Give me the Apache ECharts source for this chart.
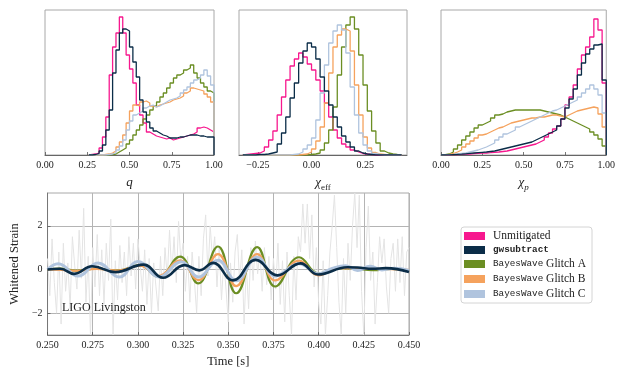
<!DOCTYPE html>
<html><head><meta charset="utf-8">
<script src="https://cdn.jsdelivr.net/npm/echarts@6/dist/echarts.min.js"></script>
<style>html,body{margin:0;padding:0;background:#fff}#c{width:618px;height:369px}</style>
</head><body><div id="c"></div>
<script>
// ---------- names / colours ----------
const seriesNames = ['Unmitigated', 'gwsubtract', 'BayesWave Glitch A', 'BayesWave Glitch B', 'BayesWave Glitch C'];
const seriesColors = ['#f7188e', '#0b2d48', '#6b8e23', '#f5a25d', '#b0c4de'];

// ---------- histogram: q (bins of 0.02 starting at 0.26) ----------
const qBinStart = 0.26, qBinWidth = 0.02;
const qUnmitigated = [0.5,1,2,7,18,38,80,108,122,138,122,100,86,72,50,40,32,23,21,19,18,17,16,17,15,16,17,18,19,20,21,23,27,28,27,25,23];
const qGwsubtract  = [0,0.5,1.5,4,10,25,45,82,105,122,126,124,108,93,78,55,43,33,27,24,22,20,19,17,17,17,18,18,19,20,20,20,19,19,18,18,18];
const qGlitchA     = [0,0,0,0,0,0,0.5,1,3,5,7,11,15,20,25,30,36,40,45,49,53,58,62,67,72,77,80,82,85,87,90,82,77,72,68,64,62];
const qGlitchB     = [0,0,0,0,0.5,1,2,4,8,13,20,32,44,50,49,53,54,52,49,48,50,51,52,53,55,56,57,59,62,64,67,66,65,64,61,58,53];
const qGlitchC     = [0,0,0,0,0,0.5,1,2,5,9,15,25,34,40,42,44,47,49,50,48,49,51,53,55,56,57,59,62,65,68,72,75,77,80,85,79,70];

// ---------- histogram: chi_eff (bins of 0.02 starting at -0.32) ----------
const effBinStart = -0.32, effBinWidth = 0.02;
const effUnmitigated = [0.5,1,1.5,2,4,8,15,24,40,58,75,89,96,102,98,91,85,75,64,52,38,25,17,11,8,5,3,1.5,1,0.5,0,0,0,0,0,0,0];
const effGwsubtract  = [0,0,0,0.5,0.5,1,2,3,11,22,38,57,72,92,104,112,108,96,78,64,50,38,28,19,13,8,4,2,1,0.5,0,0,0,0,0,0,0];
const effGlitchA     = [0,0,0,0,0,0,0,0,0,0,0,0,0,0,0,0.5,1,2,5,12,25,48,80,108,130,138,126,100,70,44,24,12,4,2,1,0.5,0.3];
const effGlitchB     = [0,0,0,0,0,0,0,0,0,0,0,0,0,0.5,1,3,6,14,28,52,82,108,120,126,124,104,70,40,18,7,2.5,1,0.5,0,0,0,0];
const effGlitchC     = [0,0,0,0,0,0,0,0,0,0,0,0.5,1,3,6,10,17,35,62,90,112,124,130,125,102,68,40,22,10,4,1.5,0.5,0,0,0,0,0];

// ---------- histogram: chi_p (bins of 0.025 starting at 0) ----------
const chipBinStart = 0, chipBinWidth = 0.025;
const chipUnmitigated = [0,0.2,0.4,0.5,0.7,0.9,1,1.3,1.6,1.8, 2,2.3,2.7,3,3.5,4,5,6,7,8, 9,10,11,13,15,18,22,26,29,36, 50,58,70,86,100,108,118,136,125,72];
const chipGwsubtract  = [0,0.2,0.4,0.6,0.8,1.2,1.6,2,2.4,2.7, 3,3.5,4,5,6,7,8,9,10,11, 12,13,15,17,19,21,23,25,29,36, 47,56,66,80,92,101,106,110,111,75];
const chipGlitchA     = [0.3,1,3,6,10,15,19,23,27,30, 32,34,37,40,41,43,44,45,45,45, 45,45,45,45,44,43,42,41,40,38, 36,34,32,30,28,26,23,20,16,9];
const chipGlitchB     = [0.2,0.6,1.5,3,5,8,11,14,17,20, 21,23,25,27,28,30,32,33,34,35, 36,37,37,38,38,39,40,40,39,38, 40,42,44,45,46,47,48,47,41,28];
const chipGlitchC     = [0.1,0.3,0.6,1,1.5,2,3,4,5,6.5, 8,10,12,15,18,21,23,25,28,30, 32,34,36,38,40,42,44,45,47,49, 51,53,55,58,62,66,70,66,60,42];

// ---------- whitened strain (time [s], strain) ----------
const noiseStart = 0.25, noiseStep = 0.00125;
const noiseValues = [
 0.5,-1.2,1.4,-0.6,-2.0,0.8,-2.5,1.2,
 -1.0,0.3,-1.8,1.5,0.2,-0.9,1.8,-0.4,
 2.8,-1.5,0.6,-3.0,1.0,-0.8,1.6,-1.2,
 0.9,-1.6,1.2,-0.5,2.3,-3.0,0.4,-1.4,
 1.1,-0.6,0.8,-1.2,1.5,-0.3,1.2,-0.9,
 1.4,0.2,-1.0,0.9,-1.6,0.5,-2.0,0.3,
 -0.8,-1.9,0.6,-1.2,1.0,-0.4,1.8,-0.2,
 1.5,-0.6,2.2,0.4,1.2,-1.0,0.6,-1.5,
 0.8,-0.5,-2.0,0.6,-1.2,1.4,2.5,-0.3,
 2.0,0.5,1.5,-0.8,1.0,-1.4,0.4,-0.9,
 -2.4,0.3,-1.5,0.8,1.6,-0.6,0.9,-2.5,
 0.2,-1.8,1.0,-0.5,1.3,-0.2,0.8,-1.0,
 1.0,-0.7,0.6,-1.4,0.5,-0.9,1.2,-1.6,
 0.4,-2.4,0.8,-1.2,-3.0,0.6,-1.4,1.5,
 0.8,3.0,1.2,3.0,0.5,2.5,-0.8,1.0,
 -1.5,-2.5,0.4,-3.0,-1.2,0.8,2.0,3.4,
 1.0,-1.5,-3.0,0.5,-2.0,1.2,-0.5,2.0,
 3.5,1.0,3.4,-1.0,-3.0,1.0,2.9,-0.5,
 0.8,-2.5,-0.6,1.5,0.3,1.4,-0.8,-2.0,
 0.5,1.2,-1.0,1.4,-0.6,1.5,-1.2,0.8,1.0];

const waveGlitchA = [[0.250,0],[0.257,0.04],[0.266,-0.05],[0.277,0.04],[0.289,-0.04],[0.301,0.2],[0.3114,-0.34],[0.3233,0.59],[0.3334,-0.64],[0.3443,1.05],[0.3544,-1.09],[0.3660,1.02],[0.3760,-0.78],[0.3892,0.56],[0.4000,-0.18],[0.4110,0.06],[0.4200,0.04],[0.4300,-0.03],[0.4400,0.02],[0.4500,-0.04]];
const waveGlitchB = [[0.250,0],[0.258,-0.02],[0.266,-0.06],[0.277,0.03],[0.289,-0.05],[0.301,0.17],[0.3114,-0.3],[0.3233,0.42],[0.3334,-0.49],[0.3443,0.7],[0.3544,-0.76],[0.3660,0.7],[0.3760,-0.5],[0.3892,0.4],[0.4000,-0.27],[0.4110,0.06],[0.4200,0.05],[0.4300,0.02],[0.4400,0.01],[0.4500,-0.02]];
const waveGlitchC = [[0.250,0],[0.2559,0.26],[0.2669,-0.3],[0.2779,0.3],[0.2897,-0.35],[0.3000,0.36],[0.3117,-0.34],[0.3240,0.35],[0.3335,-0.35],[0.3443,0.42],[0.3544,-0.52],[0.3660,0.56],[0.3760,-0.3],[0.3892,0.26],[0.4000,-0.2],[0.4075,0.05],[0.4150,0.17],[0.4215,-0.05],[0.4285,0.15],[0.4350,-0.02],[0.4420,0.05],[0.4500,-0.05]];
const waveGwsubtract = [[0.250,0],[0.2570,0.03],[0.2647,-0.2],[0.2747,0.15],[0.2875,-0.12],[0.3031,0.22],[0.3139,-0.38],[0.3258,0.2],[0.3340,-0.04],[0.3416,0.3],[0.3526,-0.5],[0.3652,0.44],[0.3772,-0.27],[0.3900,0.28],[0.3996,-0.23],[0.4160,0.1],[0.4215,0.09],[0.4298,0.03],[0.4372,0.06],[0.4500,-0.12]];

// tick labels
const qTicks = [0, 0.25, 0.5, 0.75, 1];
const effTicks = [-0.25, 0, 0.25];
const chipTicks = [0, 0.25, 0.5, 0.75, 1];
const strainTicks = [-2, 0, 2];

// ---------- build ----------
const SERIF = 'Liberation Serif';
const MONO = 'Liberation Mono';
function stepData(start, width, vals) {
  const d = [[start, 0]];
  vals.forEach((v, i) => d.push([start + i * width, v]));
  const end = start + vals.length * width;
  d.push([end, vals[vals.length - 1]]);
  d.push([end, 0]);
  return d;
}
const minus = s => String(s).replace('-', '\u2212');

const histSets = [
  {start: qBinStart, width: qBinWidth, data: [qUnmitigated, qGwsubtract, qGlitchA, qGlitchB, qGlitchC]},
  {start: effBinStart, width: effBinWidth, data: [effUnmitigated, effGwsubtract, effGlitchA, effGlitchB, effGlitchC]},
  {start: chipBinStart, width: chipBinWidth, data: [chipUnmitigated, chipGwsubtract, chipGlitchA, chipGlitchB, chipGlitchC]}
];

const grids = [
  {left: 45, top: 10, width: 169, height: 145},
  {left: 239, top: 10, width: 168, height: 145},
  {left: 441, top: 10, width: 168, height: 145},
  {left: 45, top: 193, width: 364, height: 144}
].map(g => Object.assign(g, {show: true, borderColor: '#a8a8a8', borderWidth: 1, containLabel: false}));

const labelStyle = {fontFamily: SERIF, fontSize: 10, color: '#222', margin: 5};
const tickStyle = {show: true, inside: true, length: 3, lineStyle: {color: '#555', width: 0.8}};
const nameRich = {
  i: {fontFamily: SERIF, fontSize: 13, fontStyle: 'italic', color: '#222'},
  c: {fontFamily: SERIF, fontSize: 13, fontStyle: 'italic', color: '#222', lineHeight: 16, verticalAlign: 'top'},
  s: {fontFamily: SERIF, fontSize: 9, color: '#222', lineHeight: 8, verticalAlign: 'bottom'},
  p: {fontFamily: SERIF, fontSize: 9, fontStyle: 'italic', color: '#222', lineHeight: 8, verticalAlign: 'bottom'}
};
const histRanges = [[0, 1], [-0.338, 0.445], [0, 1]];
const histTicks = [qTicks, effTicks, chipTicks];
const histNames = ['{i|q}', '{c|\u03c7}{s|eff}', '{c|\u03c7}{p|p}'];

const xAxes = [], yAxes = [], series = [];
for (let k = 0; k < 3; k++) {
  xAxes.push({
    type: 'value', gridIndex: k, min: histRanges[k][0], max: histRanges[k][1],
    axisLine: {show: true, onZero: false, lineStyle: {color: '#666', width: 1}},
    axisTick: Object.assign({customValues: histTicks[k]}, tickStyle),
    axisLabel: Object.assign({customValues: histTicks[k], showMinLabel: true, showMaxLabel: true,
      formatter: v => minus(v.toFixed(2))}, labelStyle),
    splitLine: {show: false},
    name: histNames[k], nameLocation: 'middle', nameGap: 21,
    nameTextStyle: {rich: nameRich, fontFamily: SERIF}
  });
  yAxes.push({type: 'value', gridIndex: k, min: 0, max: 145, show: false});
  const hs = histSets[k];
  hs.data.forEach((vals, j) => {
    series.push({
      type: 'line', name: seriesNames[j], xAxisIndex: k, yAxisIndex: k,
      data: stepData(hs.start, hs.width, vals), step: 'end', symbol: 'none', silent: true,
      lineStyle: {color: seriesColors[j], width: 1.3}, itemStyle: {color: seriesColors[j]},
      z: 3 + (j === 1 ? 1 : 0)
    });
  });
}
// strain panel
xAxes.push({
  type: 'value', gridIndex: 3, min: 0.25, max: 0.45, interval: 0.025,
  axisLine: {show: true, onZero: false, lineStyle: {color: '#777'}},
  axisTick: tickStyle,
  axisLabel: Object.assign({formatter: v => v.toFixed(3), showMinLabel: true, showMaxLabel: true}, labelStyle),
  splitLine: {show: true, lineStyle: {color: '#b4b4b4', width: 1}},
  name: 'Time [s]', nameLocation: 'middle', nameGap: 20,
  nameTextStyle: {fontFamily: SERIF, fontSize: 12.5, color: '#222'}
});
yAxes.push({
  type: 'value', gridIndex: 3, min: -3, max: 3.5,
  axisLine: {show: true, onZero: false, lineStyle: {color: '#777'}},
  axisTick: Object.assign({customValues: strainTicks}, tickStyle),
  axisLabel: Object.assign({customValues: strainTicks, formatter: v => minus(v)}, labelStyle),
  splitLine: {show: true, customValues: strainTicks, lineStyle: {color: '#b4b4b4', width: 1}},
  name: 'Whitened Strain', nameLocation: 'middle', nameGap: 24,
  nameTextStyle: {fontFamily: SERIF, fontSize: 12.5, color: '#222'}
});
series.push({
  type: 'line', name: 'noise', xAxisIndex: 3, yAxisIndex: 3, symbol: 'none', silent: true,
  data: noiseValues.map((v, i) => [noiseStart + i * noiseStep, v]),
  lineStyle: {color: '#e4e4e4', width: 1}, z: 2
});
const waves = [[2, waveGlitchA, 2.2], [3, waveGlitchB, 2.2], [4, waveGlitchC, 3], [1, waveGwsubtract, 2.6]];
waves.forEach(([j, d, w], n) => {
  series.push({
    type: 'line', name: seriesNames[j], xAxisIndex: 3, yAxisIndex: 3, symbol: 'none', silent: true,
    data: d, smooth: 0.45, lineStyle: {color: seriesColors[j], width: w}, itemStyle: {color: seriesColors[j]},
    z: 3 + n
  });
});

const chart = echarts.init(document.getElementById('c'), null, {renderer: 'canvas'});
chart.setOption({
  animation: false,
  backgroundColor: '#fff',
  grid: grids,
  xAxis: xAxes,
  yAxis: yAxes,
  title: {text: 'LIGO Livingston', left: 62, top: 302, padding: 0,
    textStyle: {fontFamily: SERIF, fontSize: 12, fontWeight: 'normal', color: '#222'}},
  legend: {
    data: seriesNames.map(n => ({name: n, icon: 'rect'})),
    orient: 'vertical', left: 461, top: 227, padding: [3, 6, 3, 3],
    itemGap: 3, itemWidth: 21, itemHeight: 8,
    borderColor: '#d4d4d4', borderWidth: 1, borderRadius: 3, backgroundColor: '#fff',
    selectedMode: false,
    formatter: name => {
      if (name === 'Unmitigated') return '{s|Unmitigated}';
      if (name === 'gwsubtract') return '{b|gwsubtract}';
      return '{m|BayesWave}{s| ' + name.replace('BayesWave ', '') + '}';
    },
    textStyle: {lineHeight: 10, padding: [0, 0, 0, 3], rich: {
      s: {fontFamily: SERIF, fontSize: 11.5, color: '#222', lineHeight: 10},
      m: {fontFamily: MONO, fontSize: 9.3, color: '#222', lineHeight: 10},
      b: {fontFamily: MONO, fontSize: 9.3, fontWeight: 'bold', color: '#222', lineHeight: 10}
    }}
  },
  series: series
});
</script></body></html>
